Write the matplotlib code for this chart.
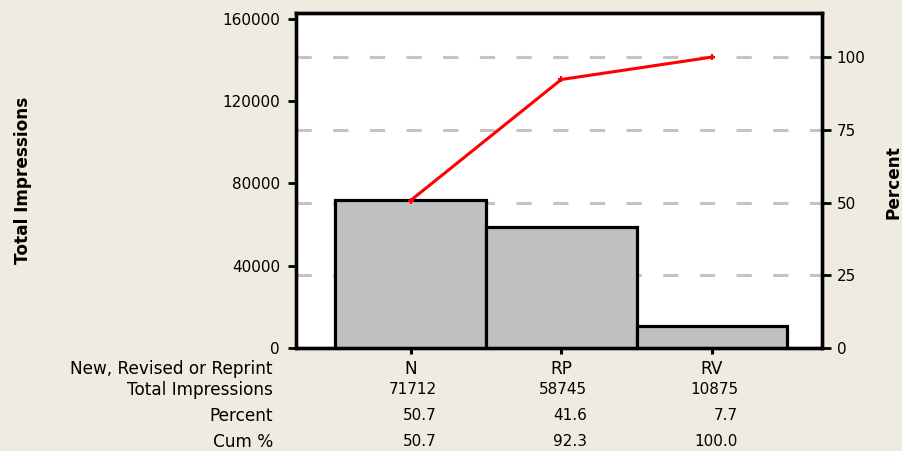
import matplotlib
matplotlib.use("Agg")
import matplotlib.pyplot as plt
import matplotlib.transforms as mtransforms

categories = ["N", "RP", "RV"]
impressions = [71712, 58745, 10875]
percent = [50.7, 41.6, 7.7]
cum_percent = [50.7, 92.3, 100.0]
left_ticks = [0, 40000, 80000, 120000, 160000]
right_ticks = [0, 25, 50, 75, 100]
row_labels = ["New, Revised or Reprint", "Total Impressions", "Percent", "Cum %"]

total = sum(impressions)
bg = "#EFEBE1"
fs = 11
fs_lab = 12.2

fig = plt.figure(figsize=(9.02, 4.51), dpi=100, facecolor=bg)
ax = fig.add_axes([296/902, 1-348/451, (822-296)/902, (348-12.5)/451])
ytop = 163000
ax.set_ylim(0, ytop)
ax.set_xlim(-0.76, 2.73)

ax2 = ax.twinx()
ax2.set_ylim(0, ytop / total * 100)

ax.set_zorder(2)
ax2.set_zorder(1)
ax.patch.set_visible(False)
ax2.patch.set_visible(True)
ax2.patch.set_facecolor("white")
for v in right_ticks[1:]:
    ax2.axhline(v, color="#C4C4C4", lw=2.2, dashes=(5, 7), zorder=0)

x = list(range(len(categories)))
ax.bar(x, impressions, width=1.0, color="#C0C0C0", edgecolor="black", linewidth=2.3, zorder=2)

ax.plot(x, [c / 100 * total for c in cum_percent], color="red", lw=2.2,
        marker="+", ms=4, mew=1.5, zorder=3)

ax.set_yticks(left_ticks)
ax.set_yticklabels([str(t) for t in left_ticks], fontsize=fs)
ax2.set_yticks(right_ticks)
ax2.set_yticklabels([str(t) for t in right_ticks], fontsize=fs)
ax.set_xticks(x)
ax.set_xticklabels([])

for a in (ax, ax2):
    for s in a.spines.values():
        s.set_linewidth(2.4)
        s.set_color("black")
ax.tick_params(axis="y", length=5.5, width=2, pad=6, colors="black")
ax2.tick_params(axis="y", length=6.5, width=2, pad=4, colors="black")
ax.tick_params(axis="x", length=4, width=2.2)

fig.text(23/902, 1-180/451, "Total Impressions", rotation=90, ha="center", va="center",
         fontsize=fs_lab, fontweight="bold")
fig.text(893/902, 1-182/451, "Percent", rotation=90, ha="center", va="center",
         fontsize=fs_lab, fontweight="bold")

row_y = [369, 390, 416, 442]
for lbl, yy in zip(row_labels, row_y):
    fig.text(273/902, 1-yy/451, lbl, ha="right", va="center", fontsize=fs_lab)

trans = mtransforms.blended_transform_factory(ax.transData, fig.transFigure)
off = mtransforms.offset_copy(trans, fig=fig, x=26, y=0, units="dots")
for i, cat in enumerate(categories):
    fig.text(i, 1-row_y[0]/451, cat, ha="center", va="center", fontsize=fs_lab, transform=trans)
    fig.text(i, 1-row_y[1]/451, str(impressions[i]), ha="right", va="center", fontsize=fs, transform=off)
    fig.text(i, 1-row_y[2]/451, f"{percent[i]:.1f}", ha="right", va="center", fontsize=fs, transform=off)
    fig.text(i, 1-row_y[3]/451, f"{cum_percent[i]:.1f}", ha="right", va="center", fontsize=fs, transform=off)

fig.savefig("out.png", dpi=100, facecolor=bg)
